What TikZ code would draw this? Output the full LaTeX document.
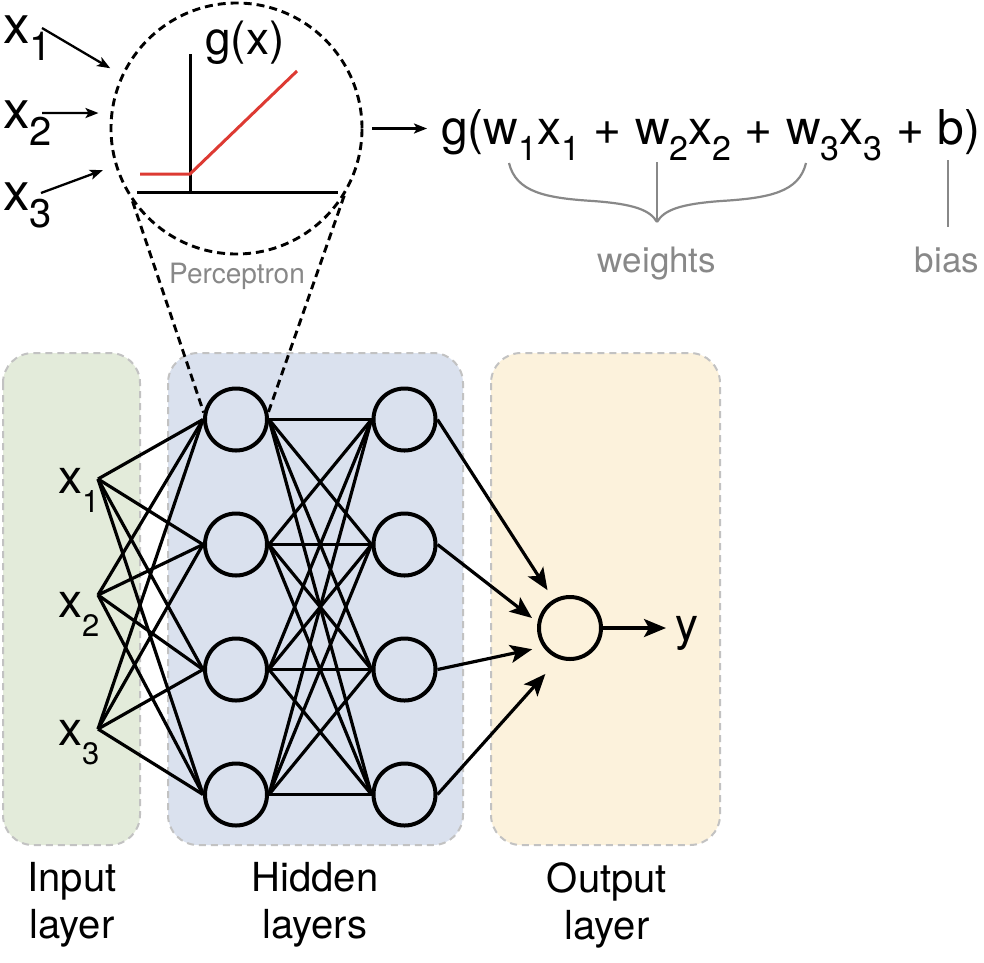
\documentclass[tikz,border=0pt]{standalone}
\usepackage{fontspec}
\setmainfont{TeX Gyre Heros}
\usetikzlibrary{arrows.meta}
\definecolor{ingreen}{HTML}{E3EBDA}
\definecolor{hidblue}{HTML}{DAE1EE}
\definecolor{outyel}{HTML}{FCF2DC}
\definecolor{boxgray}{HTML}{C2C2C2}
\definecolor{txtgray}{HTML}{888888}
\definecolor{relured}{HTML}{DD3A33}
\newcommand\fs[1]{\fontsize{#1pt}{#1pt}\selectfont}
\newcommand\sbx[3]{\raisebox{-#2pt}{\fontsize{#1pt}{#1pt}\selectfont #3}}
\newcommand\fsb[1]{\sbx{34}{16}{#1}}
\begin{document}
\begin{tikzpicture}[x=1pt,y=-1pt,
  neuron/.style={circle,draw,line width=4pt,minimum size=62pt,inner sep=0pt},
  conn/.style={line width=3.2pt},
  outarrow/.style={line width=3.2pt,-{Stealth[length=22pt,width=18pt,inset=5pt]}},
  smallarrow/.style={line width=2.3pt,-{Stealth[length=13pt,width=10pt,inset=3pt]}},
  layerbox/.style={draw=boxgray,line width=2pt,dash pattern=on 7pt off 5pt,rounded corners=30pt},
  graytxt/.style={text=txtgray,inner sep=0pt},
  grayline/.style={draw=txtgray,line width=2.2pt},
  zoomline/.style={dash pattern=on 8pt off 5pt,line width=2.9pt},
  lbl/.style={inner sep=0pt,anchor=base west},
  layerlbl/.style={anchor=north,align=center,inner sep=0pt,font=\fontsize{40pt}{47pt}\selectfont},
]
\useasboundingbox (0,0) rectangle (984,962);

% layer boxes
\path[layerbox,fill=ingreen] (3,353) rectangle (140,845);
\path[layerbox,fill=hidblue] (168,353) rectangle (463,845);
\path[layerbox,fill=outyel] (491,353) rectangle (720,845);

% perceptron zoom
\node[circle,draw,zoomline,minimum size=251pt,inner sep=0pt] (perc) at (236.5,128.5) {};
\draw[line width=3pt] (190,54) -- (190,192);
\draw[line width=3pt] (137,192) -- (338,192);
\draw[relured,line width=3pt] (140,174) -- (190,174) -- (297,71);
\node[lbl] (gx) at (205,54) {\fs{46}g(x)};
\node[graytxt,anchor=base] (perclbl) at (237,283) {\fs{28}Perceptron};

% perceptron inputs
\node[lbl] (tx1) at (3,43) {\fs{53}x\sbx{40}{17}{1}};
\node[lbl] (tx2) at (3,128) {\fs{53}x\sbx{40}{17}{2}};
\node[lbl] (tx3) at (3,210) {\fs{53}x\sbx{40}{17}{3}};
\coordinate (ta1) at (42,28);
\coordinate (ta2) at (42,113);
\coordinate (ta3) at (41,193);
\draw[smallarrow,shorten >=13pt] (ta1) -- (perc.155);
\draw[smallarrow,shorten >=12pt] (ta2) -- (perc.173);
\draw[smallarrow,shorten >=13pt] (ta3) -- (perc.197);

% formula
\node[lbl] (form) at (441,144) {\fs{48}g(w\fsb{1}x\fsb{1} + w\fsb{2}x\fsb{2} + w\fsb{3}x\fsb{3} + b)};
\coordinate (fin) at (427,128.5);
\draw[smallarrow,shorten <=9pt] (perc.east) -- (fin);
\draw[grayline] (509,163) .. controls (516,192) and (545,198) .. (593,201) .. controls (634,204) and (650,210) .. (657,222);
\draw[grayline] (806,163) .. controls (799,192) and (770,198) .. (721,201) .. controls (680,204) and (664,210) .. (657,222);
\draw[grayline] (657,162) -- (657,222);
\draw[grayline] (948,160) -- (948,227);
\node[graytxt,anchor=base] (wlbl) at (657,272) {\fs{35}weights};
\node[graytxt,anchor=base] (blbl) at (947,272) {\fs{35}bias};

% network
\foreach \r/\y in {1/419.5,2/544.5,3/669.5,4/794.5}{
  \node[neuron] (ha\r) at (236,\y) {};
  \node[neuron] (hb\r) at (404.5,\y) {};
}
\node[neuron] (out) at (570,628) {};

\node[lbl] (ix1) at (58,493) {\fs{48}x\sbx{31}{19}{1}};
\node[lbl] (ix2) at (58,617) {\fs{48}x\sbx{31}{19}{2}};
\node[lbl] (ix3) at (58,745) {\fs{48}x\sbx{31}{19}{3}};
\coordinate (i1) at (98,479);
\coordinate (i2) at (98,595);
\coordinate (i3) at (98,729);

\foreach \i in {1,2,3}{
  \foreach \j in {1,2,3,4}{
    \draw[conn] (i\i) -- (ha\j.west);
  }
}
\foreach \i in {1,2,3,4}{
  \foreach \j in {1,2,3,4}{
    \draw[conn] (ha\i.east) -- (hb\j.west);
  }
}
\draw[outarrow,shorten >=11pt] (hb1.east) -- (out.120);
\draw[outarrow,shorten >=7pt] (hb2.east) -- (out.170);
\draw[outarrow,shorten >=11pt] (hb3.east) -- (out.215);
\draw[outarrow,shorten >=20pt] (hb4.east) -- (out.250);
\coordinate (yt) at (666,628);
\draw[outarrow] (out.east) -- (yt);
\node[lbl] (ylab) at (675,640) {\fs{46}y};

% dashed zoom lines
\draw[zoomline] (perc.215) -- (ha1.168);
\draw[zoomline] (perc.328) -- (ha1.12);

% layer labels
\node[layerlbl] (inl) at (72,862) {Input\\layer};
\node[layerlbl] (hidl) at (315,862) {Hidden\\layers};
\node[layerlbl] (outl) at (607,862) {Output\\layer};
\end{tikzpicture}
\end{document}
